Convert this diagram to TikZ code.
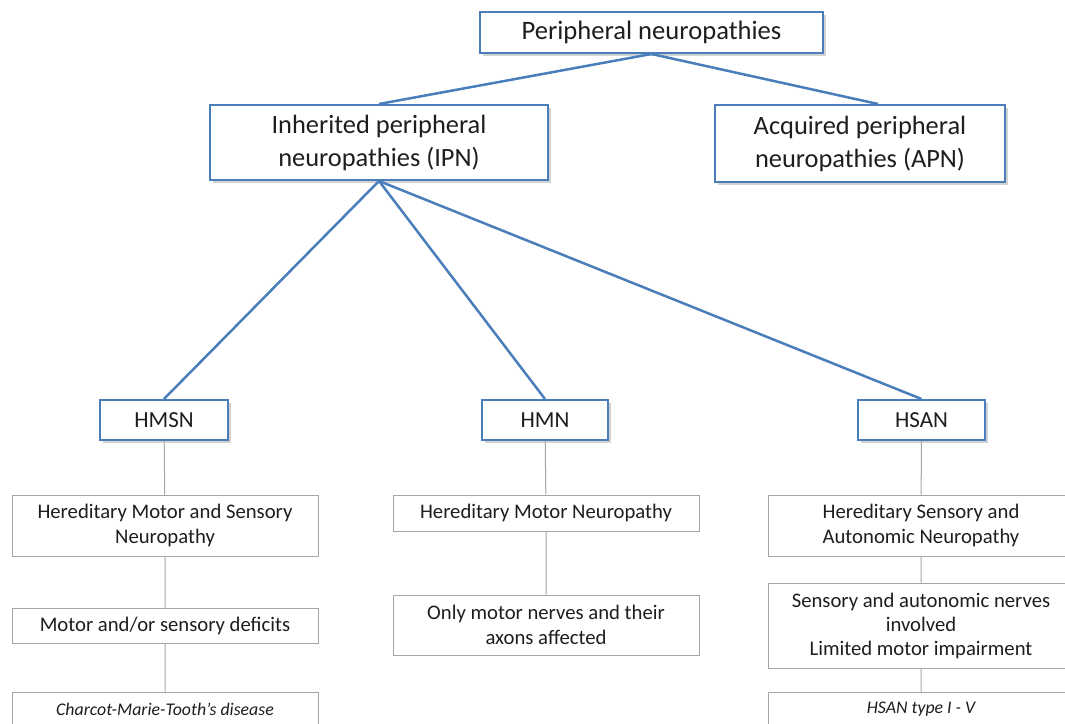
\documentclass[tikz,border=0pt]{standalone}
\usepackage{fontspec}
\setmainfont{Carlito}
\usetikzlibrary{shadows}
\definecolor{boxblue}{HTML}{4A7EBB}
\definecolor{txt}{HTML}{1E1E1E}
\definecolor{subgray}{HTML}{A5A5A5}
\tikzset{
  mainbox/.style={draw=boxblue, line width=2pt, fill=white, align=center, text=txt,
    drop shadow={shadow xshift=2.5pt, shadow yshift=-2.5pt, opacity=0.35}},
  subbox/.style={draw=subgray, line width=1pt, fill=white, align=center, text=txt,
    minimum width=306, inner sep=0pt},
  link/.style={boxblue, line width=2.5pt},
  stem/.style={subgray, line width=1pt},
}
\begin{document}
\begin{tikzpicture}[x=1pt, y=-1pt]
    \useasboundingbox (0,0) rectangle (1065,723);
    \fill[white] (0,0) rectangle (1065,723);
    \clip (0,0) rectangle (1065,723);

    % top levels
    \node[mainbox, minimum width=343, minimum height=41, font=\fontsize{26.6}{30}\selectfont]
        (pn) at (651.5,32.5) {Peripheral neuropathies};
    \node[mainbox, minimum width=338, minimum height=75, font=\fontsize{26.4}{33}\selectfont]
        (ipn) at (379,142.5) {Inherited peripheral\\neuropathies (IPN)};
    \node[mainbox, minimum width=290, minimum height=77, font=\fontsize{26.4}{33}\selectfont]
        (apn) at (860,143.5) {Acquired peripheral\\neuropathies (APN)};

    % the three groups
    \node[mainbox, minimum width=128, minimum height=40, font=\fontsize{23}{26}\selectfont]
        (hmsn) at (164,420) {HMSN};
    \node[mainbox, minimum width=126, minimum height=40, font=\fontsize{23}{26}\selectfont]
        (hmn) at (545,420) {HMN};
    \node[mainbox, minimum width=127, minimum height=40, font=\fontsize{23}{26}\selectfont]
        (hsan) at (921.5,420) {HSAN};

    % HMSN column
    \node[subbox, minimum height=61, font=\fontsize{20.7}{25}\selectfont]
        (hmsnA) at (165,525.5) {Hereditary Motor and Sensory\\Neuropathy};
    \node[subbox, minimum height=35, font=\fontsize{20.7}{25}\selectfont]
        (hmsnB) at (165,625.5) {Motor and/or sensory deficits};
    \node[subbox, minimum height=35, font=\fontsize{17.8}{20}\selectfont\itshape]
        (hmsnC) at (165,709.5) {Charcot-Marie-Tooth’s disease};

    % HMN column
    \node[subbox, minimum height=36, font=\fontsize{20.7}{25}\selectfont]
        (hmnA) at (546,513) {Hereditary Motor Neuropathy};
    \node[subbox, minimum height=60, font=\fontsize{20.7}{25}\selectfont]
        (hmnB) at (546,625) {Only motor nerves and their\\axons affected};

    % HSAN column
    \node[subbox, minimum height=61, font=\fontsize{20.7}{25}\selectfont]
        (hsanA) at (921,525.5) {Hereditary Sensory and\\Autonomic Neuropathy};
    \node[subbox, minimum height=85, font=\fontsize{20.7}{24}\selectfont]
        (hsanB) at (921,625.5) {Sensory and autonomic nerves\\involved\\Limited motor impairment};
    \node[subbox, minimum height=35, font=\fontsize{17.8}{20}\selectfont\itshape]
        (hsanC) at (921,709.5) {HSAN type I - V};

    % connectors
    \draw[link] (pn.south) -- (ipn.north);
    \draw[link] (pn.south) -- ([xshift=18pt]apn.north);
    \foreach \g in {hmsn, hmn, hsan}
        \draw[link] (ipn.south) -- (\g.north);

    \draw[stem] (hmsn) -- (hmsnA) -- (hmsnB) -- (hmsnC);
    \draw[stem] (hmn) -- (hmnA) -- (hmnB);
    \draw[stem] (hsan) -- (hsanA) -- (hsanB) -- (hsanC);
\end{tikzpicture}
\end{document}
